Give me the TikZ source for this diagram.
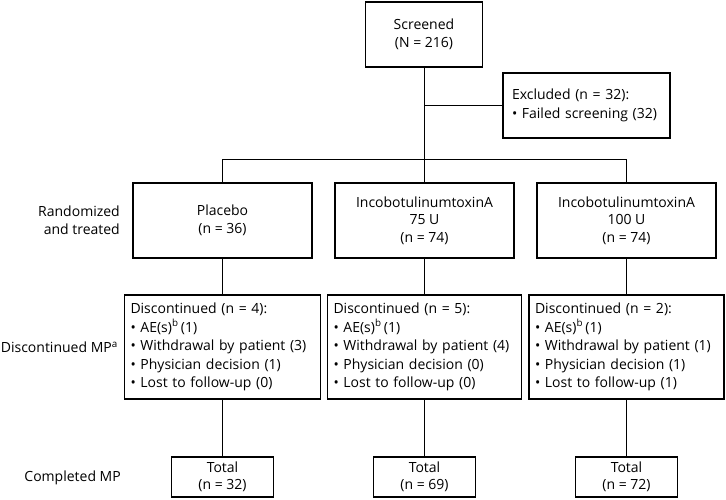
\documentclass[tikz,border=0pt]{standalone}
\usepackage{fontspec}
\setmainfont{Open Sans}
\begin{document}
\begin{tikzpicture}[x=1pt,y=-1pt]
	\tikzstyle{box}=[draw,line width=1.1pt,inner sep=0pt,align=center,font=\fontsize{14}{17.5}\selectfont]
	\tikzstyle{list}=[draw,line width=1.1pt,inner xsep=6pt,inner ysep=0pt,align=left,font=\fontsize{14}{18.6}\selectfont]
	\tikzstyle{side}=[align=right,anchor=east,inner sep=0pt,font=\fontsize{14}{17.5}\selectfont]
	\tikzstyle{link}=[line width=0.8pt]
	\useasboundingbox (0,0) rectangle (726,500);
	% screening
	\node[box,minimum width=117pt,minimum height=65pt] (scr) at (424,34.5) {Screened\\(N = 216)};
	\node[list,inner xsep=9pt,text width=149pt,minimum height=65pt] (exc) at (586.5,105.5) {Excluded (n = 32):\\\textbullet{} Failed screening (32)};
	% randomized
	\node[box,minimum width=179pt,minimum height=75pt] (r_1) at (222.5,220.5) {Placebo\\(n = 36)};
	\node[box,minimum width=179pt,minimum height=75pt] (r_2) at (424.5,220.5) {IncobotulinumtoxinA\\75 U\\(n = 74)};
	\node[box,minimum width=179pt,minimum height=75pt] (r_3) at (626.5,220.5) {IncobotulinumtoxinA\\100 U\\(n = 74)};
	% discontinued
	\node[list,text width=184pt,minimum height=104pt] (d_1) at (222.5,347) {Discontinued (n = 4):\\\textbullet{} AE(s)\textsuperscript{b}\,(1)\\\textbullet{} Withdrawal by patient (3)\\\textbullet{} Physician decision (1)\\\textbullet{} Lost to follow-up (0)};
	\node[list,text width=182pt,minimum height=104pt] (d_2) at (424.5,347) {Discontinued (n = 5):\\\textbullet{} AE(s)\textsuperscript{b}\,(1)\\\textbullet{} Withdrawal by patient (4)\\\textbullet{} Physician decision (0)\\\textbullet{} Lost to follow-up (0)};
	\node[list,text width=183pt,minimum height=104pt] (d_3) at (626.5,347) {Discontinued (n = 2):\\\textbullet{} AE(s)\textsuperscript{b}\,(1)\\\textbullet{} Withdrawal by patient (1)\\\textbullet{} Physician decision (1)\\\textbullet{} Lost to follow-up (1)};
	% completed
	\node[box,minimum width=102pt,minimum height=40pt] (t_1) at (222.5,477) {Total\\(n = 32)};
	\node[box,minimum width=102pt,minimum height=40pt] (t_2) at (424.5,477) {Total\\(n = 69)};
	\node[box,minimum width=102pt,minimum height=40pt] (t_3) at (626.5,477) {Total\\(n = 72)};
	% row labels
	\node[side] (l_1) at (120,220) {Randomized\\and treated};
	\node[side] (l_2) at (118,347) {Discontinued MP\textsuperscript{a}};
	\node[side] (l_3) at (121,478) {Completed MP};
	% connectors
	\coordinate (bus) at (424,159);
	\draw[link] (scr.south) -- (bus) -- (bus -| r_2.north) -- (r_2.north)
		(exc.west) -- (exc.west -| scr.south)
		(r_1.north) -- (r_1.north |- bus) -- (r_3.north |- bus) -- (r_3.north);
	\draw[link] (r_1) -- (d_1) (d_1) -- (t_1)
		(r_2) -- (d_2) (d_2) -- (t_2)
		(r_3) -- (d_3) (d_3) -- (t_3);
\end{tikzpicture}
\end{document}
